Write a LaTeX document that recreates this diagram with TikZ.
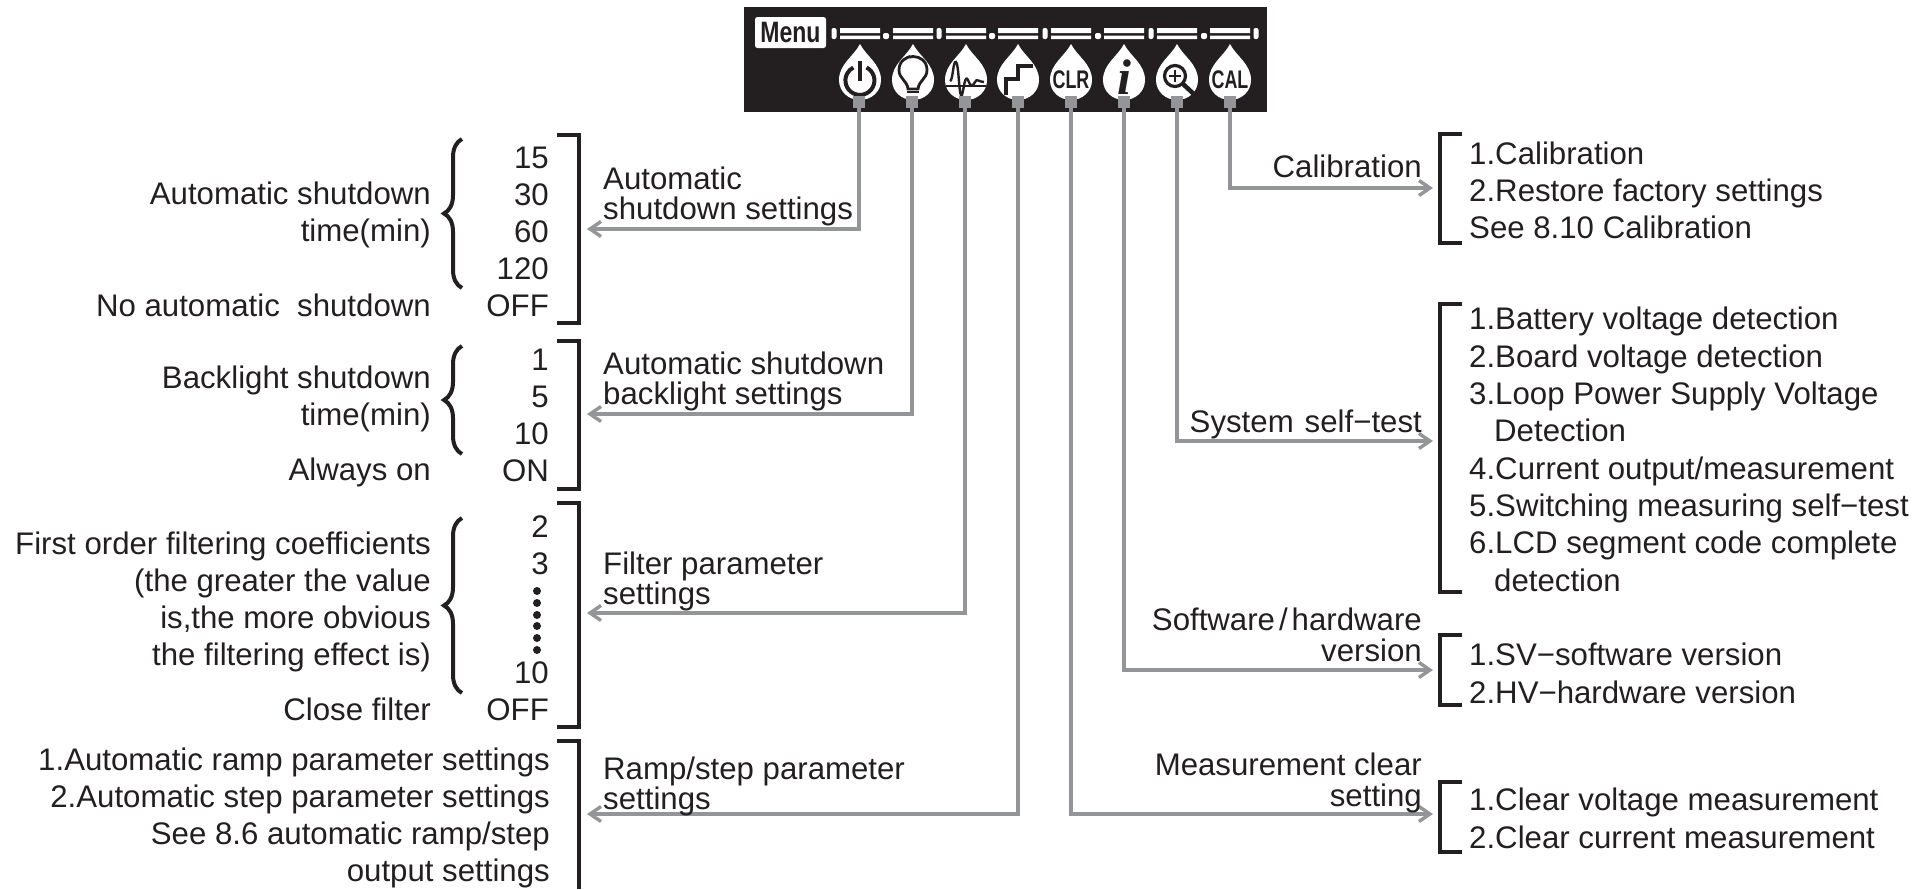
\documentclass[tikz,border=0pt]{standalone}
\usepackage{fontspec}
\setmainfont{Liberation Sans}
\usetikzlibrary{arrows.meta,decorations.pathreplacing}
\definecolor{ink}{HTML}{231F20}
\definecolor{leadgray}{HTML}{939598}
\tikzset{
    lefttext/.style={anchor=base east,align=right,inner sep=0pt,text=ink,font=\fontsize{31.2}{37}\selectfont},
    righttext/.style={anchor=base west,align=left,inner sep=0pt,text=ink,font=\fontsize{31.2}{37.3}\selectfont},
    tighttext/.style={anchor=base west,align=left,inner sep=0pt,text=ink,font=\fontsize{31.2}{30.5}\selectfont},
    tightright/.style={anchor=base east,align=right,inner sep=0pt,text=ink,font=\fontsize{31.2}{31}\selectfont},
    bracketline/.style={draw=ink,line width=3.2pt},
    curlybrace/.style={draw=ink,line width=4pt,decorate,decoration={brace,mirror,amplitude=18pt,aspect=0.5}},
    tabbox/.style={fill=leadgray,minimum size=12pt,inner sep=0pt},
    leadline/.style={draw=leadgray,line width=3.6pt,-{Straight Barb[length=11pt,width=15pt,line width=3.4pt]}},
    iconline/.style={draw=ink,line width=3.6pt},
    icontext/.style={inner sep=0pt,text=ink,xscale=0.7,font=\fontsize{25.5}{25.5}\selectfont\bfseries},
}
\begin{document}
\begin{tikzpicture}[x=1pt,y=-1pt]
    \useasboundingbox (0,0) rectangle (1930,889);
    \fill[ink] (744,7) rectangle (1267,112);
    \node[fill=white,rounded corners=2.5pt,xscale=0.78,minimum width=91pt,minimum height=31pt,inner sep=0pt,text=ink,font=\fontsize{29.5}{29.5}\selectfont\bfseries] (menu) at (790.5,32.5) {Menu};
    % display segments
    \foreach \x in {840,893,946,998,1051,1104,1157,1210}
        \fill[white] (\x,28) rectangle +(40,5) (\x,35.5) rectangle +(40,3.5);
    \foreach \x in {834,939,1045,1151,1256}
        \fill[white,rounded corners=2pt] (\x-2.5,28) rectangle (\x+2.5,39);
    \foreach \x in {886,992,1098,1204}
        \fill[white,rounded corners=2pt] (\x-3,33) rectangle (\x+3,39);
    % drops
    \foreach \x in {860,913,966,1018,1071,1124,1177,1230}
        \fill[white,shift={(\x,0)}] (0,44) .. controls (-6,56) and (-21,64) .. (-21,80)
            .. controls (-21,92) and (-11,100) .. (0,100)
            .. controls (11,100) and (21,92) .. (21,80)
            .. controls (21,64) and (6,56) .. (0,44) -- cycle;
    % power
    \draw[iconline,line width=4pt] (866.5,67.5) arc (-63:243:14.5);
    \draw[iconline,line width=4.5pt] (860,61) -- (860,81);
    % bulb
    \draw[iconline,line width=2.8pt] (908,89) .. controls (907,80) and (899,79) .. (899,70)
        .. controls (899,52) and (927,52) .. (927,70) .. controls (927,79) and (919,80) .. (918,89) -- cycle;
    \draw[iconline,line width=1.8pt] (904,60) .. controls (905,58) and (907,57) .. (910,56);
    \draw[iconline,line width=1.8pt] (907,92) -- (919,92);
    % wave
    \draw[iconline,line width=2.4pt] (946,86) -- (986,86);
    \draw[iconline,line width=2.4pt] (950,81) .. controls (953,81) and (953,60) .. (956,62)
        .. controls (959,64) and (959,101) .. (962,95) .. controls (964,88) and (965,74) .. (968,80)
        .. controls (971,88) and (973,86) .. (975,82) .. controls (977,78) and (979,82) .. (984,82);
    % step
    \draw[iconline,line width=3.6pt] (1006,95) -- (1006,79) -- (1018,79) -- (1018,66) -- (1033,66);
    \node[icontext] (clrtext) at (1071,80) {CLR};
    \node[inner sep=0pt,text=ink,font=\fontsize{50}{50}\selectfont] (infotext) at (1124,77) {\setmainfont{Liberation Serif}\bfseries\itshape i};
    % lens
    \draw[iconline,line width=3.2pt] (1175,76) circle (10.5);
    \draw[iconline,line width=2.5pt] (1169,76) -- (1181,76) (1175,70) -- (1175,82);
    \draw[ink,line width=4.5pt] (1183,84) -- (1197,97);
    \node[icontext] (caltext) at (1230,80) {CAL};
    % connectors
    \foreach \x/\name in {859/power,912/light,965/wave,1018/ramp,1071/clr,1124/info,1177/selftest,1230/cal}
        \node[tabbox] (\name) at (\x,102) {};
    \coordinate (powerend) at (587,229);
    \coordinate (lightend) at (587,414);
    \coordinate (waveend) at (587,613);
    \coordinate (rampend) at (587,814);
    \coordinate (clrend) at (1433,814);
    \coordinate (infoend) at (1433,670);
    \coordinate (selftestend) at (1433,441);
    \coordinate (calend) at (1433,188);
    \draw[leadline] (power.south) |- (powerend);
    \draw[leadline] (light.south) |- (lightend);
    \draw[leadline] (wave.south) |- (waveend);
    \draw[leadline] (ramp.south) |- (rampend);
    \draw[leadline] (clr.south) |- (clrend);
    \draw[leadline] (info.south) |- (infoend);
    \draw[leadline] (selftest.south) |- (selftestend);
    \draw[leadline] (cal.south) |- (calend);
    % brackets
    \draw[bracketline] (557,135) -- (579,135) -- (579,323) -- (557,323);
    \draw[bracketline] (557,341) -- (579,341) -- (579,489) -- (557,489);
    \draw[bracketline] (557,503) -- (579,503) -- (579,727) -- (557,727);
    \draw[bracketline] (557,741) -- (579,741) -- (579,889);
    \draw[bracketline] (1462,134) -- (1440,134) -- (1440,243) -- (1462,243);
    \draw[bracketline] (1462,304) -- (1440,304) -- (1440,592) -- (1462,592);
    \draw[bracketline] (1462,635) -- (1440,635) -- (1440,705) -- (1462,705);
    \draw[bracketline] (1462,782) -- (1440,782) -- (1440,852) -- (1462,852);
    \draw[curlybrace] (462,139) -- (462,288);
    \draw[curlybrace] (462,346) -- (462,454);
    \draw[curlybrace] (462,518) -- (462,693);
    % values
    \node[lefttext] (timevalues) at (549,316) {15\\30\\60\\120\\OFF};
    \node[lefttext] (lightvalues) at (549,481) {1\\5\\10\\ON};
    \node[lefttext] (filtervalues) at (549,574) {2\\3};
    \node[lefttext] (filterlast) at (549,720) {10\\OFF};
    \foreach \y in {591,603,615,626,638,650}
        \fill[ink] (537,\y) circle (4);
    % left labels
    \node[lefttext] (timelabel) at (431,241) {Automatic shutdown\\time(min)};
    \node[lefttext] (noshutdown) at (431,316) {No automatic\ \ shutdown};
    \node[lefttext] (lightlabel) at (431,425) {Backlight shutdown\\time(min)};
    \node[lefttext] (alwayson) at (431,480) {Always on};
    \node[lefttext] (filterlabel) at (431,665) {First order filtering coefficients\\(the greater the value\\is,the more obvious\\the filtering effect is)};
    \node[lefttext] (closefilter) at (431,720) {Close filter};
    \node[lefttext] (ramplist) at (550,881) {1.Automatic ramp parameter settings\\2.Automatic step parameter settings\\See 8.6 automatic ramp/step\\output settings};
    % middle labels
    \node[tighttext] (powerlabel) at (603,219.5) {Automatic\\shutdown settings};
    \node[tighttext] (backlightlabel) at (603,404.5) {Automatic shutdown\\backlight settings};
    \node[tighttext] (wavelabel) at (603,604.5) {Filter parameter\\settings};
    \node[tighttext] (ramplabel) at (603,809.5) {Ramp/step parameter\\settings};
    \node[tightright] (callabel) at (1422,177) {Calibration};
    \node[tightright] (selftestlabel) at (1422,432) {System\hspace{11pt}self−test};
    \node[tightright] (infolabel) at (1422,661) {Software\hspace{4pt}/\hspace{4pt}hardware\\version};
    \node[tightright] (clrlabel) at (1422,806) {Measurement clear\\setting};
    % right lists
    \node[righttext] (callist) at (1469,238.6) {1.Calibration\\2.Restore factory settings\\See 8.10 Calibration};
    \node[righttext] (selftestlist) at (1469,591) {1.Battery voltage detection\\2.Board voltage detection\\3.Loop Power Supply Voltage\\\hspace*{25pt}Detection\\4.Current output/measurement\\5.Switching measuring self−test\\6.LCD segment code complete\\\hspace*{25pt}detection};
    \node[righttext] (infolist) at (1469,703) {1.SV−software version\\2.HV−hardware version};
    \node[righttext] (clrlist) at (1469,848) {1.Clear voltage measurement\\2.Clear current measurement};
\end{tikzpicture}
\end{document}
